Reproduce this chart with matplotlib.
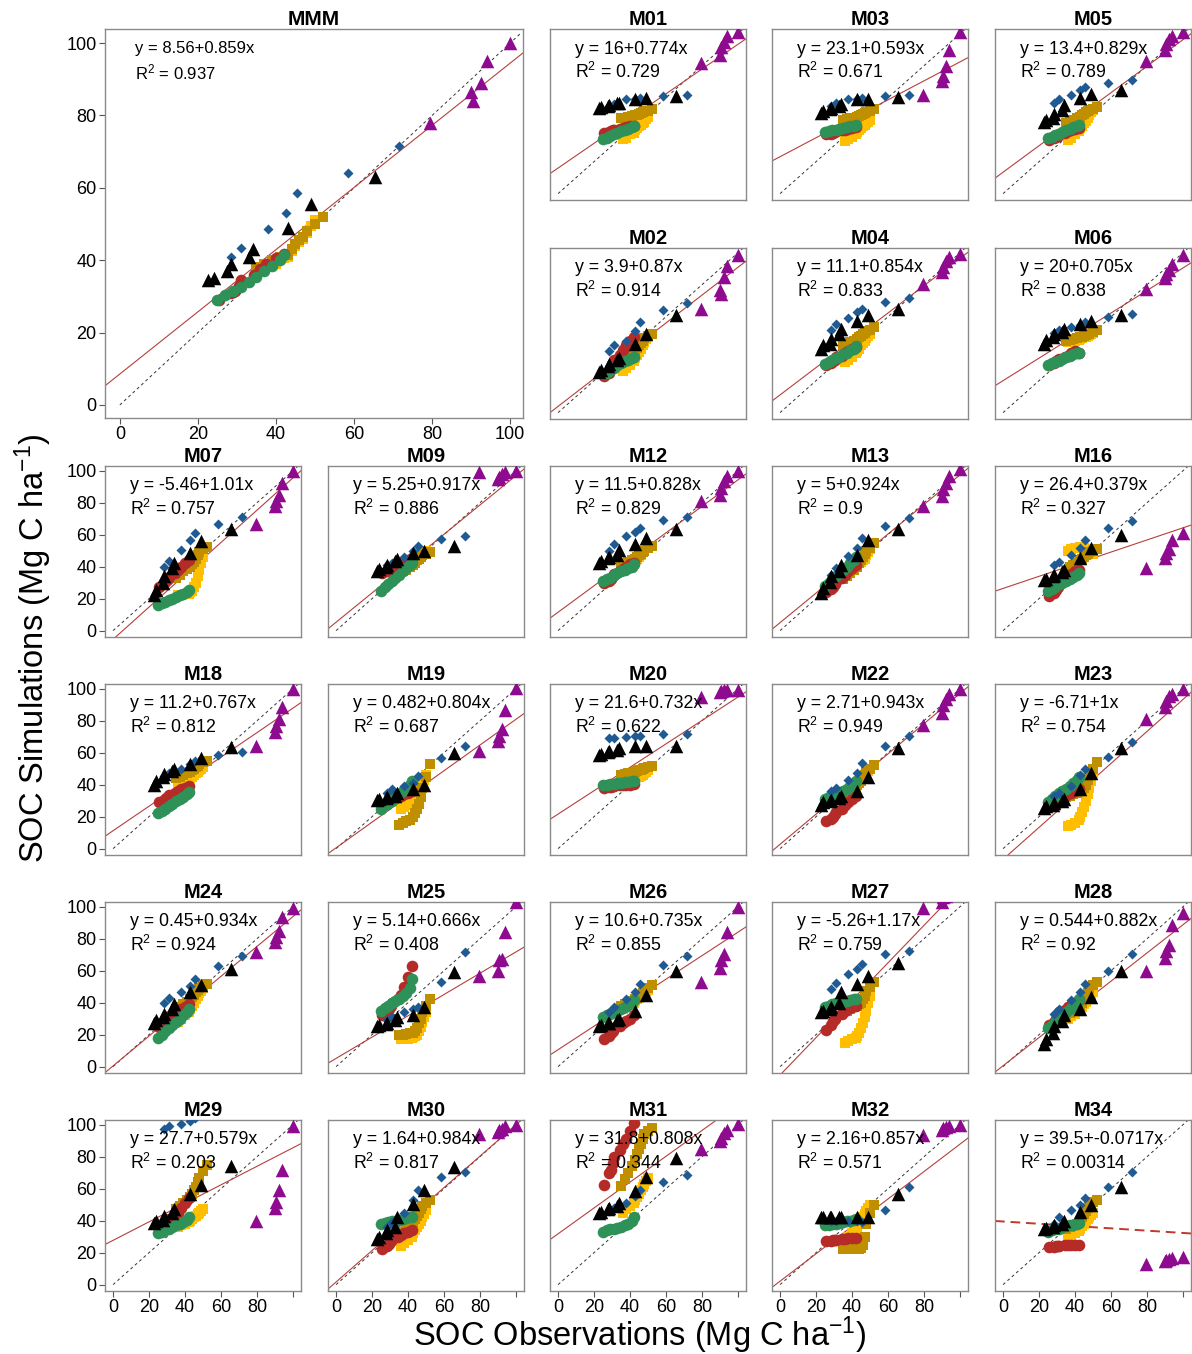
import matplotlib
matplotlib.use('Agg')
import matplotlib.pyplot as plt
import numpy as np

plt.rcParams['font.family'] = ['Liberation Sans', 'DejaVu Sans']
plt.rcParams['mathtext.fontset'] = 'custom'
plt.rcParams['mathtext.rm'] = 'Liberation Sans'
plt.rcParams['mathtext.it'] = 'Liberation Sans:italic'
plt.rcParams['mathtext.bf'] = 'Liberation Sans:bold'

W, H = 1192, 1354

models = ['MMM', 'M01', 'M03', 'M05', 'M02', 'M04', 'M06', 'M07', 'M09', 'M12', 'M13', 'M16',
          'M18', 'M19', 'M20', 'M22', 'M23', 'M24', 'M25', 'M26', 'M27', 'M28',
          'M29', 'M30', 'M31', 'M32', 'M34']
intercept = [8.56, 16, 23.1, 13.4, 3.9, 11.1, 20, -5.46, 5.25, 11.5, 5, 26.4,
             11.2, 0.482, 21.6, 2.71, -6.71, 0.45, 5.14, 10.6, -5.26, 0.544,
             27.7, 1.64, 31.8, 2.16, 39.5]
slope = [0.859, 0.774, 0.593, 0.829, 0.87, 0.854, 0.705, 1.01, 0.917, 0.828, 0.924, 0.379,
         0.767, 0.804, 0.732, 0.943, 1, 0.934, 0.666, 0.735, 1.17, 0.882,
         0.579, 0.984, 0.808, 0.857, -0.0717]
r2 = [0.937, 0.729, 0.671, 0.789, 0.914, 0.833, 0.838, 0.757, 0.886, 0.829, 0.9, 0.327,
      0.812, 0.687, 0.622, 0.949, 0.754, 0.924, 0.408, 0.855, 0.759, 0.92,
      0.203, 0.817, 0.344, 0.571, 0.00314]

# observed SOC, shared by every model
obs_black = [22.5, 24, 27.5, 28.5, 33, 34, 43, 49, 65.5]
obs_blue = [28.5, 31, 38, 42.5, 45.5, 58.5, 71.5]
obs_red = [25.5, 28.5, 29.5, 30.5, 31, 34.5, 36, 37.5, 40, 42]
obs_green = [25, 27, 29, 31, 33, 35, 37, 39, 41, 42]
obs_yellow = [36, 38, 40, 42, 43, 44, 45, 46, 47, 48, 49, 50]
obs_gold = [35, 37, 39, 41, 43, 44, 45, 46, 47, 48, 50, 52]
obs_purple = [79.5, 90, 90.5, 92.5, 94, 100]

# simulated SOC per model
sim_black = {
    'MMM': [34.5, 35, 37, 39, 41, 43, 49, 55.5, 63],
    'M01': [53.5, 54, 55, 55.5, 56.5, 57, 59.5, 60, 61],
    'M03': [50.5, 51.5, 53, 53.5, 55, 56, 59, 59.5, 60.5],
    'M05': [44.5, 46, 47.5, 50, 52.5, 55.5, 60, 62.5, 65],
    'M02': [25.5, 26.5, 29, 30.5, 33, 34, 43, 49, 61],
    'M04': [40, 42, 43, 46, 49.5, 52.5, 57.5, 61, 65],
    'M06': [43, 45.5, 47, 49, 50.5, 52.5, 55.5, 57.5, 61],
    'M07': [22.5, 25.5, 29.5, 34, 39, 42.5, 48.5, 56, 63.5],
    'M09': [37.5, 38.5, 40, 41, 43.5, 45, 48.5, 50, 53],
    'M12': [42, 43.5, 45.5, 46, 47.5, 50.5, 54, 58, 63.5],
    'M13': [23.5, 26.5, 30.5, 34, 37, 41, 47.5, 57, 63.5],
    'M16': [31.5, 32.5, 34, 35, 36.5, 38, 45.5, 51.5, 60],
    'M18': [40, 42, 44.5, 46.5, 48.5, 50, 53, 57, 63.5],
    'M19': [30.5, 31, 31.5, 32, 33, 35, 37, 40, 60],
    'M20': [58.5, 59.5, 60.5, 61, 62, 63, 64, 64.5, 64.5],
    'M22': [27.5, 29, 29.5, 30.5, 31.5, 33, 36, 45, 63],
    'M23': [25.5, 26.5, 27.5, 28.5, 29.5, 31, 37, 47.5, 63],
    'M24': [27.5, 29, 31, 33, 36, 39, 46.5, 51, 61],
    'M25': [25.5, 26, 26.5, 27.5, 29, 31, 32, 37, 59],
    'M26': [25.5, 26, 27, 27.5, 29, 30, 35, 44.5, 60],
    'M27': [34, 35, 36, 37.5, 40, 46.5, 52, 57, 65],
    'M28': [14, 17, 21, 25.5, 28.5, 32, 36, 43.5, 60],
    'M29': [38.5, 39.5, 40.5, 43, 45, 47, 56.5, 62.5, 74],
    'M30': [28.5, 30, 32, 34, 36, 42, 50.5, 59, 73.5],
    'M31': [44.5, 45.5, 47, 48, 49, 51, 58.5, 67.5, 79.5],
    'M32': [42, 42, 42, 42, 42, 42, 42, 42, 57],
    'M34': [35, 35.5, 36, 37, 38, 40, 45.5, 49.5, 61],
}
sim_blue = {
    'MMM': [41, 43.5, 48.5, 53, 58.5, 64, 71.5],
    'M01': [55, 56, 59, 59.5, 60, 61, 61.5],
    'M03': [55, 57, 59, 59.5, 60, 61, 61.5],
    'M05': [57, 59, 62, 65, 67, 69.5, 71],
    'M02': [38.5, 42, 45, 51, 56.5, 64, 68.5],
    'M04': [52, 55.5, 59.5, 63, 65, 69, 71.5],
    'M06': [50, 51.5, 53.5, 55, 57, 60, 61.5],
    'M07': [40, 43.5, 50.5, 57, 61, 66.5, 71],
    'M09': [41, 42.5, 46, 50, 53, 57.5, 59],
    'M12': [50, 54, 59, 62, 64.5, 69, 71],
    'M13': [35, 39, 46.5, 52, 58, 65.5, 70.5],
    'M16': [41, 43, 47.5, 52, 57, 64.5, 68.5],
    'M18': [45.5, 47.5, 50, 53, 55, 58.5, 60.5],
    'M19': [35, 37, 39, 41, 45.5, 57, 64.5],
    'M20': [69, 69.5, 70, 70.5, 70.5, 71.5, 72],
    'M22': [36, 38, 43, 47.5, 53.5, 64, 70.5],
    'M23': [33, 35, 39, 46, 50, 57.5, 66.5],
    'M24': [40, 43, 46.5, 50.5, 55, 63, 69.5],
    'M25': [29, 31, 34, 36, 37.5, 53, 71.5],
    'M26': [34, 37, 42, 46.5, 52, 63.5, 69],
    'M27': [48.5, 52.5, 58, 61, 64.5, 70.5, 72.5],
    'M28': [33, 36, 41.5, 46.5, 52, 60, 70.5],
    'M29': [97.5, 99, 100.5, 102.5, 104, 110, 115],
    'M30': [36, 39, 44.5, 53, 59, 67.5, 70.5],
    'M31': [46, 48, 51, 55.5, 59.5, 64.5, 68.5],
    'M32': [40, 40, 40, 40, 39, 46.5, 61],
    'M34': [38, 42, 46.5, 50, 54, 61, 70.5],
}
sim_red = {
    'MMM': [29, 31, 31.5, 33, 34.5, 36, 37.5, 39, 40.5, 41.7],
    'M01': [38, 38.5, 39, 39.5, 40, 40.5, 41, 41.5, 42, 42.5],
    'M03': [37, 37.5, 38, 38.5, 39, 39.5, 40, 40.5, 41, 41.5],
    'M05': [33.5, 34.5, 35.5, 36, 37, 38, 39, 40, 40.5, 41],
    'M02': [23, 25, 27, 30, 33, 36, 39, 42, 45, 47],
    'M04': [30, 31, 32, 33, 34.5, 35.5, 37, 38.5, 39.5, 41],
    'M06': [30, 31, 32, 33, 33.5, 34.5, 35.5, 37, 38.5, 37],
    'M07': [27.5, 30, 31, 32.5, 33.5, 36, 38, 40, 42, 44],
    'M09': [36, 37, 38, 39, 40, 41, 42, 43, 44, 45.5],
    'M12': [30, 31, 32.5, 34, 35.5, 37, 38.5, 40, 41.5, 42.5],
    'M13': [24, 26, 27.5, 29, 31, 33, 35, 37, 39, 41],
    'M16': [21.5, 23.5, 25.5, 27.5, 29.5, 31.5, 33.5, 35.5, 37, 38],
    'M18': [29, 30.5, 31.5, 32.5, 33.5, 35, 36, 37, 38, 39],
    'M19': [27, 28, 29, 30, 31, 32, 33, 34, 35, 36],
    'M20': [38, 38.5, 38.5, 39, 39, 39.5, 39.5, 40, 40, 40.5],
    'M22': [17, 18.5, 20, 21.5, 23, 25, 27, 29, 31, 33],
    'M23': [28, 29, 30, 31, 32, 33, 34, 35, 36, 37],
    'M24': [25, 27, 28.5, 30, 31.5, 33, 34.5, 36, 37.5, 39],
    'M25': [32, 34, 36, 38, 40, 42, 45, 50, 56, 63],
    'M26': [17, 19, 21, 22.5, 24, 25.5, 27, 28.5, 30, 32],
    'M27': [23, 26, 28.5, 30, 31.5, 33, 34.5, 36, 37, 38],
    'M28': [26, 28, 30, 32, 34, 35.5, 37, 38.5, 40, 41.5],
    'M29': [33, 35, 37, 39, 41, 43, 45, 48, 51, 54],
    'M30': [22, 24, 25.5, 27, 28.5, 30, 31, 32, 33, 34],
    'M31': [62.5, 70, 72, 76, 80, 84, 88, 91, 96, 101],
    'M32': [27.5, 27.5, 28, 28, 28, 28.5, 28.5, 29, 29, 29],
    'M34': [23.5, 23.5, 24, 24, 24, 24.5, 24.5, 24.5, 25, 25],
}
sim_green = {
    'MMM': [29, 30.5, 31.5, 32.5, 34, 35.5, 37, 38.5, 40, 41.5],
    'M01': [34, 35, 36, 37, 38, 39, 40, 40.5, 41.5, 42],
    'M03': [38.5, 39, 39.5, 40, 40.5, 41, 41.5, 42, 42.5, 43],
    'M05': [34.5, 35.5, 36.5, 37.5, 38.5, 39.5, 40.5, 41.5, 42, 43],
    'M02': [24, 25, 26.5, 28, 29.5, 31, 32, 33, 34, 35],
    'M04': [30.5, 31.5, 33, 34, 35, 36.5, 37.5, 39, 40, 41.5],
    'M06': [30, 31, 31.5, 32.5, 33.5, 34.5, 35.5, 36.5, 37.5, 37],
    'M07': [16, 17, 18, 19, 20, 21, 22, 23, 24, 25.5],
    'M09': [25, 27, 29, 31, 33, 35, 37, 39, 41, 42.5],
    'M12': [31, 32, 33, 34.5, 36, 37, 38, 39, 40, 41.5],
    'M13': [28, 30, 32, 34, 36, 38, 40, 42, 44, 46],
    'M16': [24.5, 26, 27.5, 29, 30, 31, 32, 33.5, 35, 36],
    'M18': [22, 23.5, 25, 26.5, 28, 29.5, 31, 32.5, 34, 35.5],
    'M19': [25, 27, 28.5, 30, 32, 34, 36, 38, 40, 42],
    'M20': [39.5, 40, 40.5, 40.5, 41, 41, 41.5, 41.5, 42, 42.5],
    'M22': [31, 32, 33, 34, 35, 36, 37.5, 39, 40.5, 42],
    'M23': [29, 31, 33, 34.5, 36, 37.5, 39, 41, 43, 45],
    'M24': [18, 20, 22, 24, 26, 28, 30, 32, 34, 36],
    'M25': [35, 36.5, 38, 39.5, 41, 42.5, 44, 46, 49, 55],
    'M26': [31, 32, 33, 34, 35, 36, 37, 38.5, 40, 41.5],
    'M27': [37, 38, 39, 39.5, 40, 40.5, 41, 41.5, 42, 42.5],
    'M28': [24, 26, 28, 30, 32, 34, 36, 38, 40, 42],
    'M29': [32, 33, 34, 35, 36, 37, 38, 39, 40.5, 42],
    'M30': [38, 38.5, 39, 39.5, 40, 40.5, 41, 41.5, 42, 42.5],
    'M31': [33, 34, 34.5, 35, 35.5, 36, 37, 38, 40, 42],
    'M32': [37, 37.5, 38, 38, 38.5, 39, 39.5, 40, 40.5, 41],
    'M34': [33, 34, 34.5, 35, 36, 36.5, 37, 37.5, 38, 38.5],
}
sim_yellow = {
    'MMM': [37, 38, 39, 40.5, 41, 42.5, 44, 45, 46, 47.5, 49.5, 51],
    'M01': [34, 35, 37, 38, 40, 41, 42, 43, 44, 45, 46.5, 48],
    'M03': [33, 34, 35.5, 37, 38.5, 40, 41, 42, 43, 44, 45, 46],
    'M05': [33.5, 35, 37, 39, 41, 42.5, 44, 45.5, 47, 49, 51, 52.5],
    'M02': [26, 28, 30, 32, 34, 36, 38, 40, 42, 44, 46, 48],
    'M04': [31.5, 33, 35, 37, 38.5, 40, 42, 43.5, 45, 46.5, 48, 49],
    'M06': [44, 44.5, 45, 45.5, 46, 46.5, 47, 47.5, 48, 48.5, 49, 50],
    'M07': [22, 22, 23, 23, 24, 25, 27, 30, 34, 38, 42, 46],
    'M09': [38, 39, 40, 41, 42.5, 44, 45, 46, 47, 48, 49, 50],
    'M12': [37, 39, 40, 41.5, 43, 44.5, 46, 47.5, 49, 50.5, 52, 53],
    'M13': [35, 37, 39, 40, 41, 42, 43, 44, 45, 47, 49, 51],
    'M16': [50, 51, 51.5, 52, 52.5, 52, 51.5, 51, 50.5, 50, 49, 48],
    'M18': [40, 41, 42, 43, 44, 45, 46, 47, 48, 49, 50, 51],
    'M19': [25, 26, 27, 28, 29, 30, 32, 34, 37, 40, 43, 46],
    'M20': [42, 42.5, 43, 43.5, 44, 44.5, 45, 45.5, 46, 47, 48, 49],
    'M22': [33, 35, 36.5, 38, 39.5, 41, 42.5, 44, 45.5, 47, 48.5, 50],
    'M23': [14, 15, 16, 18, 20, 23, 26, 30, 34, 38, 42, 46],
    'M24': [28, 30, 32, 34, 36, 38, 40, 42, 44, 46, 47.5, 49],
    'M25': [17, 17, 17.5, 18, 18.5, 19, 20, 22, 25, 28, 31, 34],
    'M26': [36, 37.5, 39, 40, 41, 42, 43, 44, 45, 46, 47, 48],
    'M27': [15, 16, 17, 18, 19, 21, 24, 27, 31, 35, 40, 44],
    'M28': [30, 31.5, 33, 34.5, 36, 37.5, 39, 40.5, 42, 43.5, 45, 46.5],
    'M29': [36, 37, 38, 39, 40, 41, 42, 43, 44, 45, 46, 47],
    'M30': [24, 26, 28, 30, 32, 34, 36, 38, 40, 42, 44, 46.5],
    'M31': [45, 47, 49, 51, 53, 55, 57, 59, 61, 63, 65, 67],
    'M32': [28, 30, 32, 34, 36, 38, 40, 42, 44, 46, 48, 50],
    'M34': [29, 30.5, 32, 33.5, 35, 36.5, 38, 39.5, 41, 42, 43.5, 45],
}
sim_gold = {
    'MMM': [38, 39, 40, 41, 41.5, 43, 44.5, 45.5, 46.5, 48, 50, 52],
    'M01': [47, 47.5, 48, 48.5, 49, 49.5, 50, 50.5, 51, 51.5, 52, 53],
    'M03': [46, 46.5, 47, 47.5, 48, 48.5, 49, 50, 50.5, 51, 52, 53],
    'M05': [44, 45, 46, 47, 48, 49, 50, 51, 52, 52.5, 53, 54],
    'M02': [31, 33, 35, 37, 39, 40.5, 42, 43.5, 45, 46.5, 48, 49.5],
    'M04': [42, 43, 44, 45, 46, 47, 48, 49, 50, 51, 52, 53.5],
    'M06': [45, 45.5, 46, 46.5, 47, 47.5, 48, 48.5, 49, 49.5, 50.5, 51.5],
    'M07': [33, 35, 37, 38.5, 40, 41.5, 43, 45, 47, 49, 51, 52.5],
    'M09': [36, 37, 38, 39.5, 41, 42.5, 44, 45, 46, 47, 48, 49],
    'M12': [41, 42, 43, 44, 45, 46, 47, 48, 49, 50, 51.5, 53],
    'M13': [32, 34, 36, 38, 40, 42, 44, 46, 48, 50, 52, 55],
    'M16': [38, 39.5, 41, 42.5, 44, 45, 46, 47, 48, 49, 50, 51],
    'M18': [44, 45, 46, 47, 48, 49, 50, 51, 52, 53, 54, 55],
    'M19': [15, 16, 17, 18, 20, 22, 25, 28, 32, 38, 45, 53],
    'M20': [46, 46.5, 47, 47.5, 48, 48.5, 49, 49.5, 50, 50.5, 51, 52],
    'M22': [33, 35, 36.5, 38, 39.5, 41, 42.5, 44, 46, 48, 50, 52.5],
    'M23': [32, 33, 34, 35, 36, 37, 38, 40, 43, 46, 50, 54],
    'M24': [36, 37.5, 39, 40.5, 42, 43.5, 45, 46.5, 48, 49.5, 51, 52],
    'M25': [20, 20, 20.5, 21, 21, 22, 24, 27, 30, 34, 38, 42],
    'M26': [38, 39, 40, 41, 42, 43, 44, 45, 46, 47.5, 49, 51],
    'M27': [34, 35, 36, 37, 38, 39, 40, 42, 44, 47, 50, 53],
    'M28': [32, 33.5, 35, 36.5, 38, 40, 42, 44, 46, 48.5, 51, 53],
    'M29': [47, 49, 51, 53, 55, 57, 59, 61, 64, 67, 71, 75],
    'M30': [31, 33, 35, 37, 39, 41, 43, 45, 47, 49, 51, 53],
    'M31': [62, 66, 70, 74, 78, 82, 85, 88, 91, 94, 96, 98],
    'M32': [22, 22, 22, 22, 22, 22, 23, 25, 30, 38, 45, 50],
    'M34': [35, 36, 37, 38, 40, 42, 44, 46, 48, 50, 52, 53],
}
sim_purple = {
    'MMM': [78, 86.5, 84, 89, 95, 100],
    'M01': [81.5, 87, 91.5, 95, 98.5, 101],
    'M03': [62, 70.5, 73.5, 80, 90, 101],
    'M05': [83, 90, 93.5, 96.5, 98.5, 101],
    'M02': [65, 76.5, 74.5, 85, 92, 98.5],
    'M04': [80.5, 88, 91, 95, 97.5, 99.5],
    'M06': [77.5, 84, 87, 89, 93, 98.5],
    'M07': [66.5, 78, 81, 85, 92.5, 100],
    'M09': [99.5, 95, 96, 98, 99, 100],
    'M12': [81, 85, 89.5, 93.5, 97, 100],
    'M13': [78, 84, 88.5, 92.5, 97, 101],
    'M16': [39, 45.5, 48.5, 51, 57, 61],
    'M18': [64.5, 73, 77, 81, 88.5, 100],
    'M19': [61, 67.5, 70.5, 75, 86.5, 100.5],
    'M20': [95, 98, 98.5, 99, 99, 99],
    'M22': [77.5, 85, 90, 93.5, 96.5, 100],
    'M23': [81, 88.5, 92.5, 95.5, 97, 100],
    'M24': [71.5, 78, 81, 85, 93.5, 99],
    'M25': [57, 60, 66.5, 67.5, 84, 103],
    'M26': [53, 62, 67, 70.5, 84, 100],
    'M27': [99, 103, 106, 107, 109, 112],
    'M28': [60, 68, 72.5, 76, 88.5, 96],
    'M29': [39.5, 48, 52, 59.5, 72, 99.5],
    'M30': [94.5, 95.5, 96.5, 97.5, 99, 100],
    'M31': [85, 90, 92, 95, 97, 100.5],
    'M32': [93.5, 97, 98, 98.5, 99, 100],
    'M34': [13, 15, 15.5, 16, 16.5, 17],
}

layout = [
    [None, None, 'M01', 'M03', 'M05'],
    [None, None, 'M02', 'M04', 'M06'],
    ['M07', 'M09', 'M12', 'M13', 'M16'],
    ['M18', 'M19', 'M20', 'M22', 'M23'],
    ['M24', 'M25', 'M26', 'M27', 'M28'],
    ['M29', 'M30', 'M31', 'M32', 'M34'],
]
col_left = [105, 328, 550, 772, 995]
row_top = [29, 248, 466, 684, 902, 1120]

# (x, y, colour, marker, size) in drawing order
groups = [
    (obs_yellow, sim_yellow, '#ffbf00', 's', 62),
    (obs_gold, sim_gold, '#bf8f00', 's', 62),
    (obs_red, sim_red, '#b52b27', 'o', 70),
    (obs_green, sim_green, '#2e9157', 'o', 70),
    (obs_blue, sim_blue, '#1f5b92', 'D', 26),
    (obs_black, sim_black, '#000000', '^', 95),
    (obs_purple, sim_purple, '#8e0a8e', '^', 95),
]


def add_panel(fig, left, top, width, height):
    return fig.add_axes([left / W, 1 - (top + height) / H, width / W, height / H])


def draw_panel(ax, name, big=False, show_x=False, show_y=False):
    i = models.index(name)
    if big:
        ax.set_xlim(-3.8, 103.3)
        ax.set_ylim(-3.6, 103.9)
    else:
        ax.set_xlim(-4.5, 104.5)
        ax.set_ylim(-4, 103)

    for z, (obs, sim, color, marker, size) in enumerate(groups):
        ax.scatter(obs, sim[name], s=size, c=color, marker=marker,
                   linewidths=0, zorder=3 + z)

    ax.plot([0, 103], [0, 103], color='#333333', lw=0.7,
            linestyle=(0, (3, 3)), zorder=2)
    xs = np.array(ax.get_xlim())
    if name == 'M34':
        ax.plot(xs, intercept[i] + slope[i] * xs, color='#c0392b', lw=1.4,
                linestyle=(0, (5, 3)), zorder=2)
    else:
        ax.plot(xs, intercept[i] + slope[i] * xs, color='#b5403c', lw=0.8, zorder=2)

    dx = 30 if big else 25
    fs = 12 if big else 12.8
    ax.annotate('y = %g+%gx' % (intercept[i], slope[i]), xy=(0, 1), xycoords='axes fraction',
                xytext=(dx, -20), textcoords='offset pixels', fontsize=fs, va='center', zorder=20)
    ax.annotate('R$^2$ = %g' % r2[i], xy=(0, 1), xycoords='axes fraction',
                xytext=(dx, -43), textcoords='offset pixels', fontsize=fs, va='center', zorder=20)

    ax.set_title(name, fontsize=15 if big else 14.5, fontweight='bold', pad=3)

    ticks = [0, 20, 40, 60, 80, 100]
    if show_x:
        ax.set_xticks(ticks)
        if big:
            ax.set_xticklabels([str(t) for t in ticks])
        else:
            ax.set_xticklabels(['0', '20', '40', '60', '80', ''])
    else:
        ax.set_xticks([])
    if show_y:
        ax.set_yticks(ticks)
    else:
        ax.set_yticks([])
    ax.tick_params(direction='out', length=4, width=0.8, color='#555555',
                   labelsize=13, pad=2)
    for sp in ax.spines.values():
        sp.set_color('#8a8a8a')
        sp.set_linewidth(1.0)


fig = plt.figure(figsize=(W / 100, H / 100), dpi=100)

ax = add_panel(fig, 105, 29, 418, 389)
draw_panel(ax, 'MMM', big=True, show_x=True, show_y=True)

for r, row in enumerate(layout):
    for c, name in enumerate(row):
        if name is None:
            continue
        ax = add_panel(fig, col_left[c], row_top[r], 196, 171)
        draw_panel(ax, name, show_x=(r == len(layout) - 1), show_y=(c == 0))

fig.text(33 / W, 1 - 648 / H, 'SOC Simulations (Mg C ha$^{-1}$)', rotation=90,
         ha='center', va='center', fontsize=23.5)
fig.text(640 / W, 1 - 1335 / H, 'SOC Observations (Mg C ha$^{-1}$)',
         ha='center', va='center', fontsize=23.5)

fig.savefig('out.png', dpi=100)
